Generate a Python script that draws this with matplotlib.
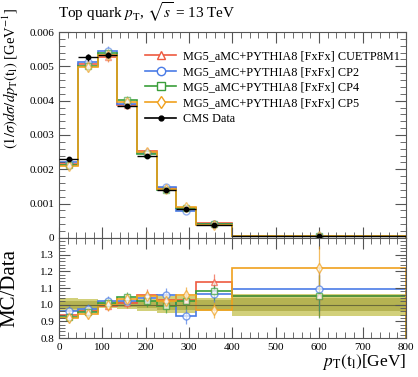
import numpy as np
import matplotlib
matplotlib.use('Agg')
import matplotlib.pyplot as plt
from matplotlib.ticker import MultipleLocator, NullFormatter
from matplotlib.lines import Line2D

plt.rcParams['font.family'] = ['Liberation Serif', 'DejaVu Serif']
plt.rcParams['mathtext.fontset'] = 'stix'

# bin edges in GeV
edges = [0, 45, 90, 135, 180, 225, 270, 315, 400, 800]

# CMS data, normalised cross section
data_vals = [0.00229, 0.00526, 0.00533, 0.00384, 0.00239, 0.00140, 0.00084, 0.00038, 0.00005]
data_err = [0.00006, 0.00010, 0.00008, 0.00006, 0.00005, 0.00004, 0.00003, 0.00002, 0.000004]
# relative data uncertainty (band in ratio panel)
band_inner = [0.025, 0.022, 0.012, 0.015, 0.022, 0.03, 0.03, 0.03, 0.04]
band_outer = [0.04, 0.035, 0.02, 0.025, 0.035, 0.05, 0.05, 0.04, 0.065]

# MC / data ratios
ratio_cuetp8m1 = [0.94, 0.965, 0.99, 1.01, 1.06, 1.03, 1.03, 1.135, 1.055]
ratio_cp2 = [0.96, 0.975, 1.02, 1.02, 1.04, 1.06, 0.93, 1.063, 1.095]
ratio_cp4 = [0.925, 0.955, 1.01, 1.045, 1.02, 0.99, 1.02, 1.08, 1.05]
ratio_cp5 = [0.92, 0.945, 1.0, 1.035, 1.05, 1.025, 1.06, 0.968, 1.22]
ratio_err = [0.03, 0.03, 0.03, 0.03, 0.035, 0.04, 0.045, 0.05, 0.13]

labels = ['MG5_aMC+PYTHIA8 [FxFx] CUETP8M1',
          'MG5_aMC+PYTHIA8 [FxFx] CP2',
          'MG5_aMC+PYTHIA8 [FxFx] CP4',
          'MG5_aMC+PYTHIA8 [FxFx] CP5']
colors = ['#ee5a3f', '#4a7be6', '#3a9e3a', '#f0a11e']
markers = ['^', 'o', 's', 'd']
ratios = [ratio_cuetp8m1, ratio_cp2, ratio_cp4, ratio_cp5]

edges = np.array(edges)
centers = 0.5 * (edges[1:] + edges[:-1])
halfw = 0.5 * (edges[1:] - edges[:-1])
data_vals = np.array(data_vals)

fig = plt.figure(figsize=(4.18, 3.77), dpi=100)
ax1 = fig.add_axes([0.141, 0.369, 0.830, 0.546])
ax2 = fig.add_axes([0.141, 0.103, 0.830, 0.266])

for r, c, m, lab in zip(ratios, colors, markers, labels):
    r = np.array(r)
    mc = r * data_vals
    ax1.stairs(mc, edges, color=c, lw=1.2)
    ax1.errorbar(centers, mc, yerr=mc * np.array(ratio_err), fmt=m, color=c, ms=5,
                 mfc='white', mec=c, alpha=0.6, lw=0.9, capsize=0)
    ax2.stairs(r, edges, color=c, lw=1.2)
    ax2.errorbar(centers, r, yerr=ratio_err, fmt=m, color=c, ms=5,
                 mfc='white', mec=c, alpha=0.7, lw=0.9, capsize=0)

ax1.errorbar(centers, data_vals, xerr=halfw, yerr=data_err, fmt='o', color='black',
             ms=3.2, lw=1.0, capsize=0, zorder=5)

# data uncertainty band
ax2.stairs(1 + np.array(band_outer), edges, baseline=1 - np.array(band_outer),
           fill=True, color='#d2d07a', zorder=0)
ax2.stairs(1 + np.array(band_inner), edges, baseline=1 - np.array(band_inner),
           fill=True, color='#b5b352', zorder=0)
ax2.axhline(1.0, color='#6b6b3a', lw=0.8, zorder=1)

handles = [Line2D([], [], color=c, marker=m, ms=6, mfc='white', mec=c, lw=1.2)
           for c, m in zip(colors, markers)]
handles.append(Line2D([], [], color='black', marker='o', ms=3.5, lw=1.2))
leg = ax1.legend(handles, labels + ['CMS Data'], loc='upper left',
                 bbox_to_anchor=(0.235, 0.935), frameon=False, fontsize=8.8,
                 handlelength=2.5, handletextpad=0.6, labelspacing=0.3,
                 borderaxespad=0.0)

for ax in (ax1, ax2):
    ax.set_xlim(0, 800)
    ax.xaxis.set_major_locator(MultipleLocator(100))
    ax.xaxis.set_minor_locator(MultipleLocator(20))
    ax.tick_params(which='both', direction='in', top=True, right=True,
                   labelsize=8, color='#555555')
    ax.tick_params(which='major', length=8, width=0.8)
    ax.tick_params(which='minor', length=4, width=0.6)
    for s in ax.spines.values():
        s.set_color('#555555')
        s.set_linewidth(0.8)

ax1.set_ylim(0, 0.006)
ax1.yaxis.set_major_locator(MultipleLocator(0.001))
ax1.yaxis.set_minor_locator(MultipleLocator(0.0002))
ax1.xaxis.set_major_formatter(NullFormatter())
ax1.set_yticks([0, 0.001, 0.002, 0.003, 0.004, 0.005, 0.006])
ax1.set_yticklabels(['0', '0.001', '0.002', '0.003', '0.004', '0.005', '0.006'])

ax2.set_ylim(0.8, 1.4)
ax2.set_yticks([0.8, 0.9, 1.0, 1.1, 1.2, 1.3])
ax2.set_yticklabels(['0.8', '0.9', '1.0', '1.1', '1.2', '1.3'])
ax2.yaxis.set_minor_locator(MultipleLocator(0.02))

fig.text(0.139, 0.952, r'Top quark $p_\mathrm{T}$, $\sqrt{s}$ = 13 TeV', fontsize=11,
         ha='left', va='baseline')
ax1.set_ylabel(r'$(1/\sigma)d\sigma/dp_\mathrm{T}(\mathrm{t_l})$ [GeV$^{-1}$]',
               fontsize=10.5, loc='top')
ax2.set_ylabel('MC/Data', fontsize=15)
ax2.set_xlabel(r'$p_\mathrm{T}(\mathrm{t_l})$[GeV]', fontsize=12.5, loc='right',
               labelpad=0)
ax1.yaxis.set_label_coords(-0.11, 1.12)
ax2.yaxis.set_label_coords(-0.115, 0.5)

fig.savefig('out.png', dpi=100)
